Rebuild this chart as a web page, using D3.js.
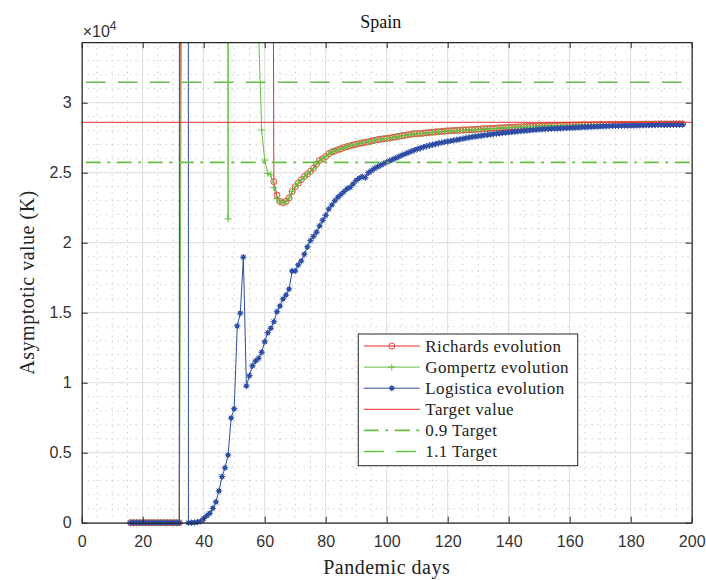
<!DOCTYPE html>
<html><head><meta charset="utf-8">
<script src="https://cdn.jsdelivr.net/npm/d3@7/dist/d3.min.js"></script>
<style>body{margin:0;background:#fff}svg{display:block}</style>
</head><body><div id="chart"></div>
<script>
// ---------------- data ----------------
const chartTitle = "Spain";
const xLabel = "Pandemic days";
const yLabel = "Asymptotic value (K)";
const startDay = 16;            // first day of every series
const xTicks = [0,20,40,60,80,100,120,140,160,180,200];
const yTicks = [0,5000,10000,15000,20000,25000,30000];
const yTickLabels = ["0","0.5","1","1.5","2","2.5","3"];
const target = 28600;
const seriesNames = ["Richards evolution","Gompertz evolution","Logistica evolution","Target value","0.9 Target","1.1 Target"];

// days 16..197
const richards = [
0,0,0,0,0,0,0,0,0,0,0,0,0,0,0,0,0,
104800,130000,160000,190000,210000,230000,240000,250000,250000,240000,230000,220000,210000,200000,190000,
180000,170000,165000,160000,155000,150000,145000,140000,135000,130000,125000,120000,115000,110000,105000,
24360,23400,22950,22850,22950,23200,23650,24000,24250,24500,24720,24900,25100,25320,25600,25880,26000,
26150,26350,26480,26550,26650,26700,26800,26860,26920,26980,27030,27080,27130,27170,27210,27260,27310,
27360,27390,27420,27450,27470,27520,27560,27600,27640,27670,27710,27750,27780,27790,27800,27820,27850,
27870,27890,27910,27930,27950,27970,27990,28000,28010,28020,28040,28050,28060,28070,28080,28090,28110,
28120,28140,28150,28160,28170,28180,28200,28210,28220,28240,28250,28260,28270,28280,28290,28300,28310,
28320,28330,28340,28340,28350,28360,28360,28370,28380,28380,28390,28390,28400,28400,28410,28410,28420,
28420,28420,28430,28430,28430,28440,28440,28440,28450,28450,28450,28450,28460,28460,28460,28460,28460,
28470,28470,28470,28470,28470,28470,28480,28480,28480,28480,28480,28480,28480,28480,28490,28490];

const gompertz = [
0,0,0,0,0,0,0,0,0,0,0,0,0,0,0,0,0,
52400,60000,75000,90000,110000,130000,150000,170000,180000,190000,200000,210000,220000,230000,240000,
21700,250000,220000,190000,160000,130000,100000,80000,60000,45000,35000,
28050,25900,24950,24850,23950,23150,22900,22850,22950,
23200,23650,24000,24250,24500,24720,24900,25100,25320,25600,25880,26000,
26150,26350,26480,26550,26650,26700,26800,26860,26920,26980,27030,27080,27130,27170,27210,27260,27310,
27360,27390,27420,27440,27460,27510,27550,27590,27630,27660,27700,27740,27760,27770,27780,27800,27830,
27850,27870,27890,27910,27930,27950,27960,27970,27980,27990,28010,28020,28030,28040,28050,28060,28080,
28090,28110,28120,28130,28140,28150,28170,28180,28190,28210,28220,28230,28240,28250,28260,28270,28280,
28290,28300,28310,28310,28320,28330,28330,28340,28350,28350,28360,28360,28370,28370,28380,28380,28390,
28390,28390,28400,28400,28400,28410,28410,28410,28420,28420,28420,28420,28430,28430,28430,28430,28430,
28440,28440,28440,28440,28440,28440,28450,28450,28450,28450,28450,28450,28450,28450,28460,28460];

const logistica = [
0,0,0,0,0,0,0,0,0,0,0,0,0,0,0,0,0,
1000000,900000,
0,0,10,50,110,310,500,670,1030,1480,2260,3290,3930,4840,7480,8140,14050,14960,18960,
9760,10500,11210,11550,11740,12170,12930,13570,13890,14360,15070,15480,15980,16260,16690,17980,17980,
18410,18690,19170,19700,20150,20450,20750,21200,21600,21950,22400,22700,23000,23250,23450,23650,23850,
23950,24200,24450,24600,24720,24650,25000,25150,25300,25420,25530,25650,25760,
25850,25950,26050,26150,26250,26340,26430,26520,26600,26680,26750,26820,26880,26940,27000,27050,27100,
27150,27190,27230,27270,27310,27350,27390,27430,27470,27510,27550,27580,27610,27640,27670,27700,27730,
27760,27790,27810,27840,27860,27890,27910,27930,27950,27970,27990,28010,28030,28050,28070,28090,28100,
28120,28130,28140,28150,28160,28170,28180,28190,28200,28210,28220,28230,28240,28250,28260,28270,28280,
28290,28300,28310,28320,28330,28340,28345,28350,28355,28360,28365,28370,28375,28380,28385,28390,28395,
28400,28405,28410,28415,28420,28425,28428,28430,28433,28436,28438,28440];

// ---------------- drawing ----------------
const W = 706, H = 580;
const P = {l:81.7, r:691.7, t:42.2, b:522.7};
const RED = "#f02a2a", GREEN = "#66bf42", BLUE = "#2f4ea6", AX = "#262626";
const SERIF = "Liberation Serif";
const SANS = "Liberation Sans";

const x = d3.scaleLinear().domain([0,200]).range([P.l,P.r]);
const y = d3.scaleLinear().domain([0,1.2*target]).range([P.b,P.t]);

const svg = d3.select("#chart").append("svg").attr("width",W).attr("height",H);
svg.append("rect").attr("width",W).attr("height",H).attr("fill","#fff");

// grid
const minorX = d3.range(0,201,5).filter(v=>v%20!==0);
const minorY = d3.range(0,1.2*target,1000).filter(v=>v%5000!==0);
const g = svg.append("g");
g.selectAll(".mgx").data(minorX).join("line")
  .attr("x1",d=>x(d)).attr("x2",d=>x(d)).attr("y1",P.t).attr("y2",P.b)
  .attr("stroke","#b8b8b8").attr("stroke-width",1).attr("stroke-dasharray","1,5");
g.selectAll(".mgy").data(minorY).join("line")
  .attr("y1",d=>y(d)).attr("y2",d=>y(d)).attr("x1",P.l).attr("x2",P.r)
  .attr("stroke","#b8b8b8").attr("stroke-width",1).attr("stroke-dasharray","1,5");
g.selectAll(".gx").data(xTicks).join("line")
  .attr("x1",d=>x(d)).attr("x2",d=>x(d)).attr("y1",P.t).attr("y2",P.b)
  .attr("stroke","#dcdcdc").attr("stroke-width",1);
g.selectAll(".gy").data(yTicks).join("line")
  .attr("y1",d=>y(d)).attr("y2",d=>y(d)).attr("x1",P.l).attr("x2",P.r)
  .attr("stroke","#dcdcdc").attr("stroke-width",1);

// clip
svg.append("clipPath").attr("id","clip").append("rect")
  .attr("x",P.l).attr("y",P.t).attr("width",P.r-P.l).attr("height",P.b-P.t);

const toPts = arr => arr.map((v,i)=>({day:startDay+i, v}));
const line = d3.line().x(d=>x(d.day)).y(d=>y(d.v));
const inView = d => d.v>=0 && d.v<=1.2*target;

function drawMarkers(sel, pts, type, color){
  const m = sel.selectAll(null).data(pts.filter(inView)).join("g")
    .attr("transform",d=>`translate(${x(d.day)},${y(d.v)})`);
  drawMarker(m, type, color);
}
function drawMarker(m, type, color){
  if(type==="o"){
    m.append("circle").attr("r",3).attr("fill","none").attr("stroke",color).attr("stroke-width",0.9);
  } else if(type==="+"){
    m.append("path").attr("d","M-3.5,0H3.5M0,-3.5V3.5").attr("stroke",color).attr("stroke-width",1);
  } else {
    m.append("circle").attr("r",2.2).attr("fill",color);
    m.append("path").attr("d","M-3.2,0H3.2M0,-3.2V3.2M-2.3,-2.3L2.3,2.3M-2.3,2.3L2.3,-2.3").attr("stroke",color).attr("stroke-width",1);
  }
}

const series = [
  {data:richards, color:RED, marker:"o"},
  {data:gompertz, color:GREEN, marker:"+"},
  {data:logistica, color:BLUE, marker:"*"}
];
series.forEach(s=>{
  const pts = toPts(s.data);
  const gs = svg.append("g");
  gs.append("path").datum(pts).attr("clip-path","url(#clip)")
    .attr("d",line).attr("fill","none").attr("stroke",s.color).attr("stroke-width",1);
  drawMarkers(gs, pts, s.marker, s.color);
});

// target lines
const targets = [
  {v:target, color:RED, dash:null, w:1},
  {v:0.9*target, color:GREEN, dash:"15,6.5,3,6.5", w:1.6},
  {v:1.1*target, color:GREEN, dash:"20,12", w:1.6}
];
targets.forEach(t=>{
  svg.append("line").attr("x1",P.l).attr("x2",P.r).attr("y1",y(t.v)).attr("y2",y(t.v))
    .attr("stroke",t.color).attr("stroke-width",t.w).attr("stroke-dasharray",t.dash)
    .attr("stroke-dashoffset", t.dash? -4 : null);
});

// axes
function styleAxis(a){
  a.attr("font-family",SANS).attr("font-size",16);
  a.selectAll("path.domain").attr("stroke",AX).attr("stroke-width",1.2);
  a.selectAll(".tick line").attr("stroke",AX).attr("stroke-width",1);
  a.selectAll("text").attr("fill","#333");
}
const ax1 = svg.append("g").attr("transform",`translate(0,${P.b})`)
  .call(d3.axisBottom(x).tickValues(xTicks).tickSizeInner(-6).tickSizeOuter(0).tickPadding(13));
styleAxis(ax1);
const ax2 = svg.append("g").attr("transform",`translate(0,${P.t})`)
  .call(d3.axisTop(x).tickValues(xTicks).tickSizeInner(-6).tickSizeOuter(0).tickFormat(""));
styleAxis(ax2);
const ay1 = svg.append("g").attr("transform",`translate(${P.l},0)`)
  .call(d3.axisLeft(y).tickValues(yTicks).tickSizeInner(-6).tickSizeOuter(0).tickPadding(10)
    .tickFormat((d,i)=>yTickLabels[i]));
styleAxis(ay1);
const ay2 = svg.append("g").attr("transform",`translate(${P.r},0)`)
  .call(d3.axisRight(y).tickValues(yTicks).tickSizeInner(-6).tickSizeOuter(0).tickFormat(""));
styleAxis(ay2);

// exponent label
const ex = svg.append("text").attr("x",P.l+1).attr("y",P.t-5).attr("fill","#333")
  .attr("font-family",SANS).attr("font-size",16);
ex.append("tspan").text("×10");
ex.append("tspan").attr("dy",-7).attr("font-size",12).text("4");

// titles
svg.append("text").attr("x",(P.l+P.r)/2-6).attr("y",28).attr("text-anchor","middle")
  .attr("fill","#111").attr("font-family",SERIF).attr("font-size",18).text(chartTitle);
svg.append("text").attr("x",(P.l+P.r)/2).attr("y",574).attr("text-anchor","middle")
  .attr("fill","#222").attr("font-family",SERIF).attr("font-size",20).attr("letter-spacing",0.5).text(xLabel);
svg.append("text").attr("transform",`translate(34,${(P.t+P.b)/2}) rotate(-90)`).attr("text-anchor","middle")
  .attr("fill","#222").attr("font-family",SERIF).attr("font-size",20).attr("letter-spacing",0.5).text(yLabel);

// legend
const L = {x:358.3, y:334, w:219.4, h:131.7};
const lg = svg.append("g");
lg.append("rect").attr("x",L.x).attr("y",L.y).attr("width",L.w).attr("height",L.h)
  .attr("fill","#fff").attr("stroke",AX).attr("stroke-width",1);
const legendItems = [
  {color:RED, marker:"o", dash:null, w:1},
  {color:GREEN, marker:"+", dash:null, w:1},
  {color:BLUE, marker:"*", dash:null, w:1},
  {color:RED, marker:null, dash:null, w:1},
  {color:GREEN, marker:null, dash:"15,6.5,3,6.5", w:1.6},
  {color:GREEN, marker:null, dash:"20,12", w:1.6}
];
legendItems.forEach((it,i)=>{
  const cy = L.y + 12 + i*21.1;
  lg.append("line").attr("x1",L.x+5.5).attr("x2",L.x+61.5).attr("y1",cy).attr("y2",cy)
    .attr("stroke",it.color).attr("stroke-width",it.w).attr("stroke-dasharray",it.dash);
  if(it.marker){
    const m = lg.append("g").attr("transform",`translate(${L.x+33.5},${cy})`);
    drawMarker(m, it.marker, it.color);
  }
  lg.append("text").attr("x",L.x+67).attr("y",cy+5.5).attr("fill","#222")
    .attr("font-family",SERIF).attr("font-size",17).attr("letter-spacing",0.4).text(seriesNames[i]);
});
</script></body></html>
